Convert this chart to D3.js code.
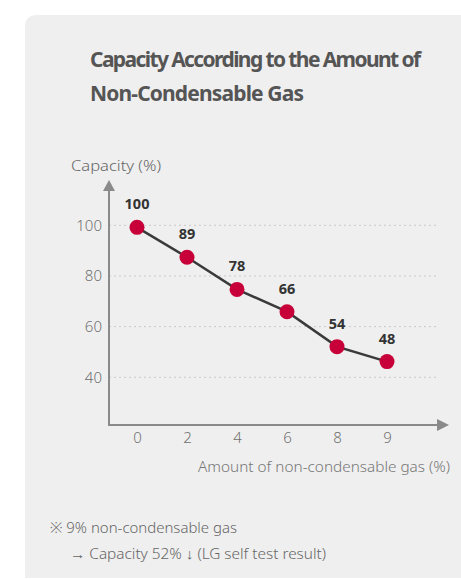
<!DOCTYPE html>
<html><head><meta charset="utf-8">
<script src="https://cdn.jsdelivr.net/npm/d3@7"></script>
<style>html,body{margin:0;padding:0;background:#fff;}svg{display:block;}</style>
</head><body>
<svg id="c" width="461" height="579"></svg>
<script>
const categories = ["0","2","4","6","8","9"];
const values = [99.2, 87.4, 74.7, 65.9, 52.1, 46.2];
const valueLabels = ["100","89","78","66","54","48"];
const yTicks = [40, 60, 80, 100];
const titleLines = ["Capacity According to the Amount of", "Non-Condensable Gas"];
const yTitle = "Capacity (%)";
const xTitle = "Amount of non-condensable gas (%)";
const notes = ["※ 9% non-condensable gas", "→ Capacity 52% ↓ (LG self test result)"];

const svg = d3.select("#c");
const font = "'Noto Sans', 'Open Sans', sans-serif";

// panel
svg.append("path")
  .attr("d", "M25,578 L25,27 Q25,15 37,15 L461,15 L461,578 Z")
  .attr("fill", "#efefef");

// title (fit width by letter-spacing)
const tl = [{t:titleLines[0], y:67, w:331},{t:titleLines[1], y:101, w:214}];
svg.selectAll("text.title").data(tl).enter().append("text")
  .attr("class","title")
  .attr("x", 90).attr("y", d=>d.y)
  .attr("font-family", font).attr("font-weight", 700).attr("font-size", 21)
  .attr("fill", "#555")
  .text(d=>d.t)
  .each(function(d){
    const nat = this.getComputedTextLength();
    const ls = (d.w - nat) / (d.t.length - 1);
    d3.select(this).attr("letter-spacing", ls.toFixed(2));
  });

const x = d3.scalePoint().domain(categories).range([137, 387]);
const y = d3.scaleLinear().domain([40, 100]).range([377.3, 225.3]);

const axisX0 = 109, axisY0 = 425, axisXEnd = 449, axisYEnd = 180;
const axisColor = "#8a8a8a";

// grid
svg.append("g").selectAll("line").data(yTicks).enter().append("line")
  .attr("x1", axisX0).attr("x2", 438)
  .attr("y1", d=>y(d)).attr("y2", d=>y(d))
  .attr("stroke", "#c8c8c8").attr("stroke-width", 1).attr("stroke-dasharray", "2,3");

// axes lines
svg.append("line").attr("x1", axisX0).attr("x2", axisX0).attr("y1", axisYEnd+9).attr("y2", axisY0+1)
  .attr("stroke", axisColor).attr("stroke-width", 2);
svg.append("line").attr("x1", axisX0-1).attr("x2", axisXEnd-11).attr("y1", axisY0).attr("y2", axisY0)
  .attr("stroke", axisColor).attr("stroke-width", 2);
svg.append("path").attr("d", `M${axisX0},${axisYEnd} L${axisX0-6},${axisYEnd+11} L${axisX0+6},${axisYEnd+11} Z`).attr("fill", axisColor);
svg.append("path").attr("d", `M${axisXEnd},${axisY0} L${axisXEnd-12},${axisY0-6} L${axisXEnd-12},${axisY0+6} Z`).attr("fill", axisColor);

// y axis ticks
const gy = svg.append("g").attr("transform", `translate(${axisX0},0)`)
  .call(d3.axisLeft(y).tickValues(yTicks).tickSize(0).tickPadding(7));
gy.select(".domain").remove();
gy.selectAll("text").attr("font-family", font).attr("font-size", 15).attr("font-weight", 300).attr("fill", "#707070");

// x axis ticks
const gx = svg.append("g").attr("transform", `translate(0,${axisY0})`)
  .call(d3.axisBottom(x).tickSize(0).tickPadding(7));
gx.select(".domain").remove();
gx.selectAll("text").attr("font-family", font).attr("font-size", 15).attr("font-weight", 300).attr("fill", "#707070");

// axis titles
svg.append("text").attr("x", 71).attr("y", 171)
  .attr("font-family", font).attr("font-size", 14).attr("font-weight", 300).attr("fill", "#666")
  .attr("textLength", 90).attr("lengthAdjust","spacingAndGlyphs").text(yTitle);
svg.append("text").attr("x", 198).attr("y", 472)
  .attr("font-family", font).attr("font-size", 14.5).attr("font-weight", 300).attr("fill", "#777")
  .attr("textLength", 252).attr("lengthAdjust","spacingAndGlyphs").text(xTitle);

// line
const data = categories.map((c,i)=>({c, v:values[i], l:valueLabels[i]}));
svg.append("path").datum(data)
  .attr("d", d3.line().x(d=>x(d.c)).y(d=>y(d.v)))
  .attr("fill","none").attr("stroke","#3a3a3a").attr("stroke-width", 2.5);

svg.append("g").selectAll("circle").data(data).enter().append("circle")
  .attr("cx", d=>x(d.c)).attr("cy", d=>y(d.v)).attr("r", 7.5)
  .attr("fill", "#c8003a");

svg.append("g").selectAll("text").data(data).enter().append("text")
  .attr("x", d=>x(d.c)).attr("y", d=>y(d.v)-18)
  .attr("text-anchor","middle")
  .attr("font-family", font).attr("font-size", 14.5).attr("font-weight", 700).attr("fill", "#333")
  .text(d=>d.l);

// notes
const nl = [{t:notes[0], x:50, y:533, w:187},{t:notes[1], x:70, y:559, w:256}];
svg.selectAll("text.note").data(nl).enter().append("text")
  .attr("class","note").attr("x", d=>d.x).attr("y", d=>d.y)
  .attr("font-family", font).attr("font-size", 14.5).attr("font-weight", 300).attr("fill", "#666")
  .attr("textLength", d=>d.w).attr("lengthAdjust","spacingAndGlyphs")
  .text(d=>d.t);
</script>
</body></html>
